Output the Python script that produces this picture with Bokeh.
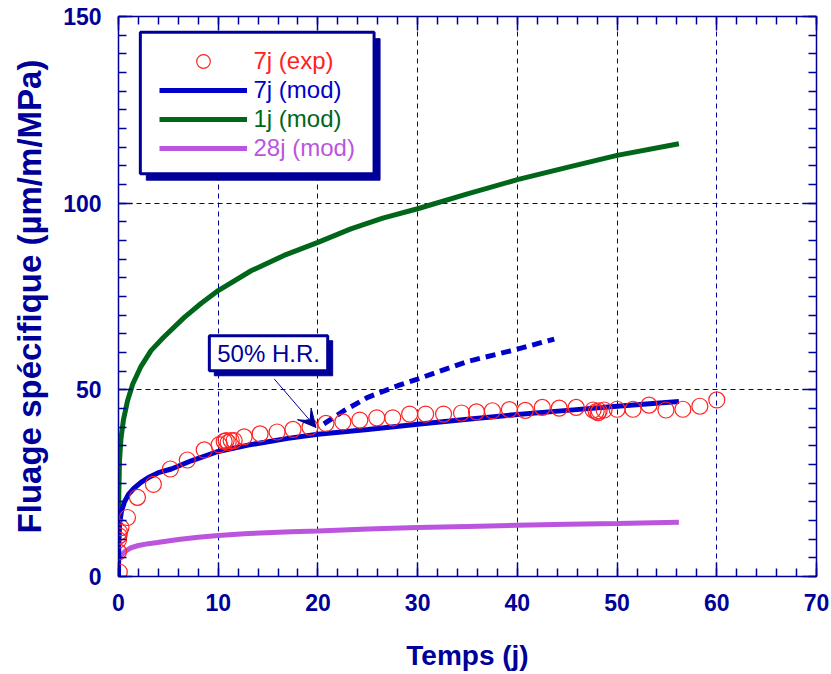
from bokeh.plotting import figure
from bokeh.models import (Range1d, LinearAxis, SingleIntervalTicker, Legend, LegendItem,
                          BoxAnnotation, Label, Arrow, VeeHead, CustomJSTickFormatter)
from bokeh.embed import file_html
from bokeh.resources import INLINE

# ---------------- data ----------------
t_exp = [0.08, 0.0, 0.0, 0.05, 0.1, 0.25, 0.9, 1.9, 3.5, 5.2, 6.9, 8.6, 10.1, 10.6, 10.8, 11.0,
         11.3, 11.6, 12.6, 14.2, 15.9, 17.5, 19.2, 20.8, 22.5, 24.2, 25.9, 27.5, 29.2, 30.8,
         32.6, 34.4, 35.9, 37.5, 39.2, 40.8, 42.5, 44.2, 45.9, 47.6, 47.9, 48.1, 48.2, 48.7,
         50.0, 51.6, 53.2, 54.9, 56.6, 58.3, 60.0]
v_exp = [1.2, 6.6, 9.8, 10.9, 11.9, 13.1, 15.8, 21.2, 24.7, 28.8, 31.2, 33.9, 35.3, 36.2, 36.4, 35.9,
         36.4, 36.4, 37.4, 38.2, 38.7, 39.4, 40.0, 41.0, 41.4, 41.9, 42.5, 42.5, 43.5, 43.5,
         43.5, 43.8, 44.1, 44.4, 44.7, 44.5, 45.3, 45.1, 45.3, 44.6, 44.2, 43.9, 44.4, 44.6,
         44.8, 44.8, 45.9, 44.6, 44.8, 45.6, 47.3]

t_7j = [0, 0.02, 0.1, 0.3, 0.6, 1.0, 1.5, 2.25, 3, 4, 5.3, 7.3, 10, 13, 17, 20, 25, 30, 35, 40, 45, 50, 56.2]
v_7j = [0.0, 8, 14, 17.5, 20, 22, 23.5, 25.2, 26.5, 27.8, 28.8, 31, 33.5, 35.2, 37.0, 38.1, 39.4,
        40.8, 42.1, 43.4, 44.5, 45.6, 46.9]

t_1j = [0, 0.03, 0.1, 0.25, 0.5, 0.9, 1.42, 2.2, 3.26, 4.5, 6.6, 8.3, 10, 13.3, 16.6, 20, 23.3,
        26.5, 30, 35, 40, 45, 50, 56.2]
v_1j = [0, 22, 31, 37, 42, 47, 51.5, 56.0, 60.5, 64, 69.4, 73.2, 76.6, 81.9, 86, 89.5, 93.1,
        96, 98.5, 102.5, 106.3, 109.6, 112.8, 115.9]

t_28j = [0, 0.05, 0.3, 0.7, 1.25, 2, 3, 3.9, 6, 8, 10, 13, 17.3, 20, 25, 30, 35, 40, 45, 50, 56.2]
v_28j = [4.5, 4.8, 5.8, 6.8, 7.7, 8.3, 8.8, 9.1, 9.9, 10.5, 11.0, 11.5, 12.0, 12.2, 12.7, 13.1,
         13.4, 13.7, 14.0, 14.2, 14.5]

t_hr50 = [20.6, 22.6, 25, 28, 30, 35, 40, 43.7]
v_hr50 = [40.9, 44.4, 48, 51.1, 52.9, 57.6, 60.9, 63.6]

legend_labels = ["7j (exp)", "7j (mod)", "1j (mod)", "28j (mod)"]
x_title = "Temps (j)"
y_title = "Fluage spécifique (µm/m/MPa)"
note_text = "50% H.R."

# ---------------- style ----------------
NAVY = "#000099"
BLUE = "#0000CC"
GREEN = "#00661A"
PURPLE = "#BB55DD"
RED = "#FF2222"
FONT = "Liberation Sans"

p = figure(frame_width=698, frame_height=560, x_range=Range1d(0, 70), y_range=Range1d(0, 150),
           output_backend="svg", toolbar_location=None,
           min_border_left=118, min_border_right=13, min_border_top=16, min_border_bottom=96,
           x_axis_label=x_title, y_axis_label=y_title)
p.outline_line_color = None

xt = SingleIntervalTicker(interval=10, num_minor_ticks=5)
yt = SingleIntervalTicker(interval=50, num_minor_ticks=10)
bottom_ax = p.below[0]
left_ax = p.left[0]
bottom_ax.ticker = xt
left_ax.ticker = yt

top_ax = LinearAxis(ticker=xt, formatter=CustomJSTickFormatter(code="return ''"))
right_ax = LinearAxis(ticker=yt, formatter=CustomJSTickFormatter(code="return ''"))
p.add_layout(top_ax, "above")
p.add_layout(right_ax, "right")

for ax in [bottom_ax, left_ax, top_ax, right_ax]:
    ax.axis_line_color = NAVY
    ax.axis_line_width = 1.5
    ax.major_tick_line_color = NAVY
    ax.minor_tick_line_color = NAVY
    ax.major_tick_line_width = 1.5
    ax.minor_tick_line_width = 1.5
    ax.major_tick_in = 14
    ax.major_tick_out = 0
    ax.minor_tick_in = 8
    ax.minor_tick_out = 0
    ax.major_label_text_font = FONT
    ax.major_label_text_font_style = "bold"
    ax.major_label_text_font_size = "23px"
    ax.major_label_text_color = NAVY
    ax.major_label_standoff = 17
    ax.axis_label_text_font = FONT
    ax.axis_label_text_font_style = "bold"
    ax.axis_label_text_color = NAVY
top_ax.major_label_text_font_size = "0px"
right_ax.major_label_text_font_size = "0px"
top_ax.major_label_standoff = 0
right_ax.major_label_standoff = 0
bottom_ax.axis_label_text_font_size = "28px"
left_ax.axis_label_text_font_size = "33px"
bottom_ax.axis_label_standoff = 26
left_ax.axis_label_standoff = 12

p.xgrid.ticker = xt
p.ygrid.ticker = yt
for g in [p.xgrid[0], p.ygrid[0]]:
    g.grid_line_color = NAVY
    g.grid_line_dash = "5 4"
    g.grid_line_width = 1

# ---------------- series ----------------
r_1j = p.line(t_1j, v_1j, line_color=GREEN, line_width=5)
r_28j = p.line(t_28j, v_28j, line_color=PURPLE, line_width=5)
r_7j = p.line(t_7j, v_7j, line_color=BLUE, line_width=5)
r_hr = p.line(t_hr50, v_hr50, line_color=BLUE, line_width=5, line_dash="10 6")
r_exp = p.scatter(t_exp, v_exp, marker="circle", size=16, fill_color=None,
                  line_color=RED, line_width=1.2)

# ---------------- legend box ----------------
p.add_layout(BoxAnnotation(left=2.79, right=26.23, top=144.06, bottom=106.16,
                           fill_color=NAVY, fill_alpha=1, line_color=NAVY, line_alpha=1))
p.add_layout(BoxAnnotation(left=2.19, right=25.63, top=145.8, bottom=107.9,
                           fill_color="white", fill_alpha=1, line_color=NAVY,
                           line_width=3, line_alpha=1))

colors = [RED, BLUE, GREEN, PURPLE]
rends = [r_exp, r_7j, r_1j, r_28j]
locs = [(40.5, 497.6), (40.5, 469.3), (40.5, 440.3), (40.5, 410.9)]
for lab, r, c, loc in zip(legend_labels, rends, colors, locs):
    lg = Legend(items=[LegendItem(label=lab, renderers=[r])], location=loc,
                padding=0, margin=0, spacing=0, glyph_width=88, glyph_height=34,
                label_height=34, label_standoff=7, border_line_alpha=0,
                background_fill_alpha=0, label_text_font=FONT,
                label_text_font_size="24px", label_text_color=c)
    p.add_layout(lg, "center")

# ---------------- annotation ----------------
p.add_layout(BoxAnnotation(left=9.61, right=21.48, top=63.15, bottom=53.77,
                           fill_color=NAVY, fill_alpha=1, line_color=NAVY, line_alpha=1))
p.add_layout(BoxAnnotation(left=9.11, right=20.98, top=64.49, bottom=55.11,
                           fill_color="white", fill_alpha=1, line_color=NAVY,
                           line_width=3, line_alpha=1))
p.add_layout(Label(x=15.05, y=59.8, text=note_text, text_align="center",
                   text_baseline="middle", text_font=FONT, text_font_size="24px",
                   text_color=NAVY))
p.add_layout(Arrow(end=VeeHead(size=18, fill_color=NAVY, line_color=NAVY),
                   x_start=15.63, y_start=52.88, x_end=19.81, y_end=39.91,
                   line_color=NAVY, line_width=1))

open("out.html", "w").write(file_html(p, INLINE))
